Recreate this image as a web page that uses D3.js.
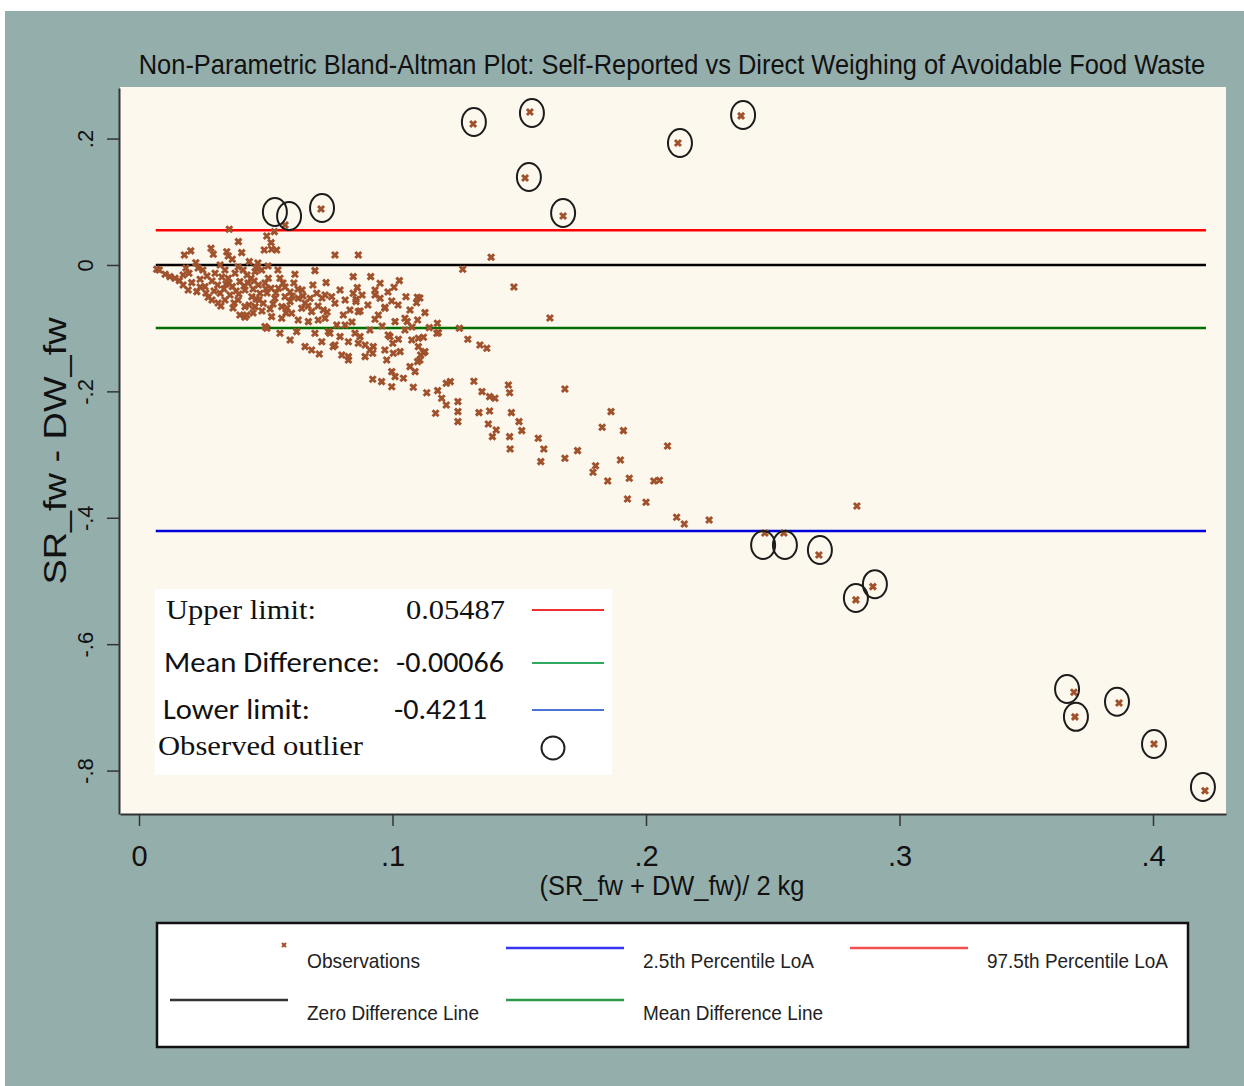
<!DOCTYPE html>
<html>
<head>
<meta charset="utf-8">
<script src="https://cdn.jsdelivr.net/npm/d3@7"></script>
<style>
body{margin:0;padding:0;background:#fff}
svg{display:block}
</style>
</head>
<body>
<div id="display"></div>
<script>
// mean of the two methods (kg) and their difference SR - DW (kg)
const avg_kg = [
  0.0356,0.0392,0.0504,0.0521,0.0494,0.0523,0.0543,0.0534,0.0576,0.0179,
  0.0204,0.0284,0.0293,0.0346,0.0352,0.0405,0.0368,0.0224,0.0435,0.0070,
  0.0080,0.0103,0.0122,0.0142,0.0159,0.0197,0.0208,0.0194,0.0228,0.0241,
  0.0260,0.0273,0.0300,0.0310,0.0320,0.0339,0.0323,0.0359,0.0368,0.0352,
  0.0379,0.0398,0.0411,0.0418,0.0442,0.0458,0.0484,0.0471,0.0445,0.0477,
  0.0490,0.0458,0.0418,0.0398,0.0418,0.0510,0.0521,0.0536,0.0556,0.0550,
  0.0563,0.0576,0.0596,0.0615,0.0628,0.0642,0.0675,0.0694,0.0701,0.0681,
  0.0602,0.0563,0.0523,0.0497,0.0628,0.0668,0.0707,
  0.0252,0.0268,0.0288,0.0327,0.0343,0.0383,0.0391,0.0430,0.0450,0.0462,
  0.0497,0.0505,0.0529,0.0576,0.0596,0.0611,0.0643,0.0655,0.0584,0.0485,
  0.0450,0.0371,0.0296,0.0241,0.0174,0.0426,0.0548,0.0509,0.0469,0.0320,
  0.0174,0.0185,0.0233,0.0264,0.0288,0.0312,0.0335,0.0355,0.0375,0.0394,
  0.0414,0.0434,0.0454,0.0473,0.0501,0.0517,0.0540,0.0568,0.0580,0.0604,
  0.0627,0.0647,0.0667,0.0686,0.0706,0.0722,0.0742,0.0462,0.0391,0.0339,
  0.0793,0.0813,0.0880,0.0903,0.0982,0.1022,0.1069,0.0911,0.0959,0.1049,
  0.1077,0.0813,0.0840,
  0.0773,0.0865,0.1389,0.1277,0.0738,0.0845,0.0914,0.0861,0.0951,0.0931,
  0.1027,0.1006,0.0734,0.0760,0.0845,0.0856,0.0931,0.0951,0.1053,0.1098,
  0.1095,0.0997,0.0970,0.0872,0.0832,0.0806,0.0773,0.0727,0.0734,0.0944,
  0.0931,0.1010,0.1049,0.1058,0.1099,0.1128,0.1145,0.1177,0.1181,0.1264,
  0.1297,0.1345,0.1372,0.0747,0.0793,0.0773,0.0826,0.0852,0.0872,0.0892,
  0.0924,0.0990,0.1023,0.1001,0.1102,0.1122,0.1102,0.1175,0.1122,0.1099,
  0.1111,
  0.0425,0.0504,0.0556,0.0596,0.0655,0.0681,0.0711,0.0622,0.0694,0.0721,
  0.0753,0.0766,0.0780,0.0865,0.0856,0.0800,0.0826,0.0826,0.0865,0.0892,
  0.0911,0.0922,0.0970,0.0983,0.0970,0.1003,0.1030,0.0977,0.1076,0.1128,
  0.1108,0.1069,0.1089,0.0997,0.1010,0.1043,0.0922,0.0957,0.0997,0.1082,
  0.1135,
  0.1178,0.1212,0.1228,0.1194,0.1212,0.1170,0.1258,0.1258,0.1258,0.1321,
  0.1353,0.1383,0.1404,0.1341,0.1383,0.1378,0.1409,0.1394,0.1457,0.1462,
  0.1469,0.1499,0.1510,0.1462,0.1464,0.1575,0.1597,0.1585,0.1680,0.1680,
  0.1730,0.1827,0.1862,0.1911,0.1801,0.1791,0.1849,0.1899,0.1934,0.1927,
  0.2000,0.2031,0.2053,0.2085,0.2121,0.2151,0.2249,0.2832,0.1479,0.1621,
  0.1108,
  0.0718,0.1318,0.1542,0.1523,0.1673,0.2126,0.2375,0.2469,0.2544,0.2682,
  0.2828,0.2895,0.3688,0.3692,0.3866,0.4004,0.4205
];
const diff_kg = [
  0.0565,0.0369,0.0459,0.0353,0.0237,0.0248,0.0237,0.0527,0.0633,0.0158,
  0.0222,0.0264,0.0169,0.0210,0.0142,0.0195,0.0090,0.0036,0.0052,-0.0068,
  -0.0079,-0.0147,-0.0185,-0.0210,-0.0248,-0.0131,-0.0280,-0.0396,-0.0422,-0.0226,
  -0.0343,-0.0511,-0.0131,-0.0316,-0.0448,-0.0554,-0.0649,-0.0475,-0.0343,-0.0210,
  -0.0131,-0.0264,-0.0079,-0.0396,-0.0210,-0.0106,-0.0079,-0.0316,-0.0502,-0.0448,
  -0.0606,-0.0660,-0.0660,-0.0791,-0.0828,-0.0210,-0.0369,-0.0527,-0.0210,-0.0369,
  -0.0660,-0.0502,-0.0581,-0.0147,-0.0527,-0.0685,-0.0527,-0.0090,-0.0448,-0.0739,
  -0.0764,-0.0843,-0.0818,-0.0976,-0.0870,-0.0897,-0.0870,
  -0.0079,-0.0174,-0.0253,-0.0190,-0.0301,-0.0411,-0.0554,-0.0285,-0.0380,-0.0538,
  -0.0285,-0.0443,-0.0617,-0.0348,-0.0427,-0.0285,-0.0396,-0.0601,-0.0680,-0.0728,
  -0.0759,-0.0680,-0.0411,-0.0348,-0.0316,-0.0158,-0.0079,-0.0016,0.0032,0.0000,
  -0.0158,-0.0047,-0.0047,-0.0443,-0.0554,-0.0601,-0.0380,-0.0285,-0.0601,-0.0459,
  -0.0332,-0.0633,-0.0253,-0.0554,-0.0380,-0.0696,-0.0443,-0.0285,-0.0759,-0.0491,
  -0.0380,-0.0491,-0.0649,-0.0316,-0.0649,-0.0522,-0.0744,-0.0047,-0.0032,-0.0079,
  -0.0396,-0.0554,-0.0475,-0.0633,-0.0427,-0.0633,-0.0712,-0.1028,-0.0965,-0.1028,
  -0.0981,-0.0949,-0.0902,
  0.0158,0.0158,0.0122,-0.0068,-0.0280,-0.0185,-0.0185,-0.0359,-0.0290,-0.0396,
  -0.0248,-0.0353,-0.0475,-0.0502,-0.0448,-0.0543,-0.0475,-0.0527,-0.0502,-0.0511,
  -0.0597,-0.0570,-0.0685,-0.0728,-0.0712,-0.0791,-0.0606,-0.0712,-0.0843,-0.0791,
  -0.0859,-0.0897,-0.0843,-0.0897,-0.0870,-0.0755,-0.0992,-0.0922,-0.1071,-0.1002,
  -0.1176,-0.1266,-0.1318,-0.1055,-0.1134,-0.1266,-0.1214,-0.1081,-0.1134,-0.1266,
  -0.1293,-0.1134,-0.1176,-0.1239,-0.1160,-0.1144,-0.1293,-0.1081,-0.1388,-0.1530,
  -0.1424,
  -0.0791,-0.1002,-0.1081,-0.1187,-0.1293,-0.1345,-0.1408,-0.1055,-0.1081,-0.1214,
  -0.1081,-0.1293,-0.0949,-0.0739,-0.0581,-0.1424,-0.1451,-0.1503,-0.1239,-0.1451,
  -0.1345,-0.1397,-0.0669,-0.1108,-0.1345,-0.1397,-0.1372,-0.1503,-0.1187,-0.1372,
  -0.1503,-0.1609,-0.1688,-0.1688,-0.1767,-0.1793,-0.1809,-0.1846,-0.1926,-0.1935,
  -0.2021,
  -0.1989,-0.1872,-0.1846,-0.2109,-0.2215,-0.2347,-0.2163,-0.2321,-0.2479,-0.1840,
  -0.2005,-0.2084,-0.2109,-0.2337,-0.2310,-0.2516,-0.2611,-0.2717,-0.1899,-0.2021,
  -0.2337,-0.2479,-0.2622,-0.2717,-0.2911,-0.2742,-0.2911,-0.3112,-0.1962,-0.3059,
  -0.2938,-0.2568,-0.2321,-0.2622,-0.3176,-0.3280,-0.3418,-0.3085,-0.3375,-0.3703,
  -0.3755,-0.3418,-0.3407,-0.2864,-0.3992,-0.4098,-0.4035,-0.3813,-0.0348,-0.0839,
  -0.0522,
  0.0886,0.2231,0.2421,0.1377,0.0775,0.1930,0.2358,-0.4240,-0.4240,-0.4590,
  -0.5300,-0.5090,-0.6760,-0.7150,-0.6930,-0.7580,-0.8320
];

// circles marking the observed outliers (as placed on the plot)
const outlier_avg = [0.0536,0.0592,0.0722,0.1321,0.1550,0.1538,0.1673,0.2134,0.2383,0.2462,
                     0.2548,0.2686,0.2828,0.2903,0.3661,0.3696,0.3858,0.4004,0.4197];
const outlier_diff = [0.0839,0.0775,0.0902,0.2263,0.2405,0.1392,0.0823,0.1930,0.2373,-0.4430,
                      -0.4430,-0.4510,-0.5270,-0.5050,-0.6710,-0.7150,-0.6910,-0.7580,-0.8260];

// horizontal reference lines
const ref_names = ["upper", "zero", "mean", "lower"];
const ref_values = [0.05487, 0, -0.0997, -0.4211];

const x_ticks = [0, 0.1, 0.2, 0.3, 0.4];
const y_ticks = [0.2, 0, -0.2, -0.4, -0.6, -0.8];

const box_labels = ["Upper limit:", "Mean Difference:", "Lower limit:", "Observed outlier"];
const box_values = ["0.05487", "-0.00066", "-0.4211", ""];

const legend_labels = ["Observations", "2.5th Percentile LoA", "97.5th Percentile LoA",
                       "Zero Difference Line", "Mean Difference Line"];

const title_text = "Non-Parametric Bland-Altman Plot: Self-Reported vs Direct Weighing of Avoidable Food Waste";
const x_title = "(SR_fw + DW_fw)/ 2 kg";
const y_title = "SR_fw - DW_fw";

// squeeze a text horizontally so it is exactly w wide (the source picture is stretched)
function squeeze(g, w){
    const t = g.select("text");
    const len = t.node().getComputedTextLength();
    const k = w / len;
    t.attr("transform", `scale(${k},1)`);
}

function generate_ba_plot(width, height){

    const svg = d3.select("#display").append("svg")
        .attr("width", width)
        .attr("height", height);

    const narrow = "'Liberation Sans Narrow','Arial Narrow','Liberation Sans',Arial,sans-serif";
    const sans = "'Liberation Sans',Arial,sans-serif";

    // page + plot backgrounds
    svg.append("rect").attr("width", width).attr("height", height).attr("fill", "#ffffff");
    svg.append("rect").attr("x", 5).attr("y", 11).attr("width", width - 5).attr("height", height - 11)
        .attr("fill", "#94aeac");

    const left = 120, right = 1226, top = 87, bottom = 814;

    svg.append("rect").attr("x", left).attr("y", top)
        .attr("width", right - left).attr("height", bottom - top)
        .attr("fill", "#fdf8ee");

    const x_scale = d3.scaleLinear().domain([-0.0075, 0.4288]).range([left, right]);
    const y_scale = d3.scaleLinear().domain([0.28, -0.8687]).range([88, bottom]);

    // stata style tick labels: .2, -.4, 0
    const stata_fmt = d => d === 0 ? "0" : String(d).replace(/^(-?)0\./, "$1.");

    // title
    const gT = svg.append("g").attr("transform", "translate(672,74)");
    gT.append("text")
        .attr("text-anchor", "middle")
        .attr("font-family", sans).attr("font-size", 27)
        .attr("fill", "#111")
        .text(title_text);
    squeeze(gT, 1067);

    // axes
    const gX = svg.append("g").attr("transform", `translate(0,${bottom})`)
        .call(d3.axisBottom(x_scale).tickValues(x_ticks).tickFormat(stata_fmt).tickSize(12).tickSizeOuter(0));
    gX.select(".domain").attr("stroke", "#333").attr("stroke-width", 2);
    gX.selectAll(".tick line").attr("stroke", "#333").attr("stroke-width", 1.5);
    gX.selectAll(".tick text")
        .attr("y", 52).attr("dy", 0)
        .attr("font-family", narrow).attr("font-size", 29).attr("fill", "#111");

    const gY = svg.append("g").attr("transform", `translate(${left - 1},0)`)
        .call(d3.axisLeft(y_scale).tickValues(y_ticks).tickFormat(stata_fmt).tickSize(12).tickSizeOuter(0));
    gY.select(".domain").attr("stroke", "#333").attr("stroke-width", 2);
    gY.selectAll(".tick line").attr("stroke", "#333").attr("stroke-width", 1.5);
    gY.selectAll(".tick text")
        .attr("x", 0).attr("dy", 0)
        .attr("transform", "translate(-26,0) rotate(-90)")
        .attr("text-anchor", "middle")
        .attr("font-family", sans).attr("font-size", 22).attr("fill", "#111");

    const gXT = svg.append("g").attr("transform", "translate(672,895)");
    gXT.append("text")
        .attr("text-anchor", "middle")
        .attr("font-family", sans).attr("font-size", 27)
        .attr("fill", "#111")
        .text(x_title);
    squeeze(gXT, 265);

    svg.append("text")
        .attr("transform", "translate(66,451) rotate(-90)")
        .attr("text-anchor", "middle")
        .attr("font-family", sans).attr("font-size", 31)
        .attr("textLength", 267).attr("lengthAdjust", "spacingAndGlyphs")
        .attr("fill", "#111")
        .text(y_title);

    // reference lines across the range of the means
    const ref_colours = {upper: "#ff0000", zero: "#000000", mean: "#006f00", lower: "#0000dd"};
    const x_ext = d3.extent(avg_kg);
    svg.append("g").selectAll("line")
        .data(ref_values)
        .join("line")
        .attr("x1", x_scale(x_ext[0]) - 1).attr("x2", x_scale(x_ext[1]) + 1)
        .attr("y1", d => y_scale(d)).attr("y2", d => y_scale(d))
        .attr("stroke", (d, i) => ref_colours[ref_names[i]])
        .attr("stroke-width", 2.5);

    // observations as small x markers
    const cross = "M-3,-3L3,3M3,-3L-3,3";
    svg.append("g").selectAll("path")
        .data(avg_kg)
        .join("path")
        .attr("transform", (d, i) => `translate(${x_scale(d)},${y_scale(diff_kg[i])})`)
        .attr("d", cross)
        .attr("stroke", "#a0522d")
        .attr("stroke-width", 3)
        .attr("fill", "none");

    // outlier circles
    svg.append("g").selectAll("ellipse")
        .data(outlier_avg)
        .join("ellipse")
        .attr("cx", d => x_scale(d))
        .attr("cy", (d, i) => y_scale(outlier_diff[i]))
        .attr("rx", 12).attr("ry", 14)
        .attr("fill", "none")
        .attr("stroke", "#1c1c1c")
        .attr("stroke-width", 2);

    // ---- the limits box inside the plot ----
    const box = svg.append("g");
    box.append("rect").attr("x", 155).attr("y", 589).attr("width", 457).attr("height", 186).attr("fill", "#ffffff");

    const serif = "'Liberation Serif','Times New Roman',serif";
    const calib = "Carlito,Lato,'Open Sans',sans-serif";
    const box_rows = [
        {lx: 166, vx: 406, y: 619, font: serif, lw: 150, vw: 99, colour: "#ee3030"},
        {lx: 164, vx: 396, y: 672, font: calib, lw: 216, vw: 108, colour: "#2faa60"},
        {lx: 163, vx: 394, y: 719, font: calib, lw: 147, vw: 93, colour: "#4a74d6"},
        {lx: 158, vx: 0, y: 755, font: serif, lw: 205, vw: 0, colour: null}
    ];
    box_rows.forEach((r, i) => {
        box.append("text").attr("x", r.lx).attr("y", r.y)
            .attr("font-family", r.font).attr("font-size", 28)
            .attr("textLength", r.lw).attr("lengthAdjust", "spacingAndGlyphs")
            .attr("fill", "#111").text(box_labels[i]);
        if(box_values[i] !== ""){
            box.append("text").attr("x", r.vx).attr("y", r.y)
                .attr("font-family", r.font).attr("font-size", 28)
                .attr("textLength", r.vw).attr("lengthAdjust", "spacingAndGlyphs")
                .attr("fill", "#111").text(box_values[i]);
        }
        if(r.colour){
            box.append("line").attr("x1", 532).attr("x2", 604)
                .attr("y1", r.y - 9).attr("y2", r.y - 9)
                .attr("stroke", r.colour).attr("stroke-width", 2);
        }
    });
    box.append("circle").attr("cx", 553).attr("cy", 748).attr("r", 11.5)
        .attr("fill", "none").attr("stroke", "#222").attr("stroke-width", 2);

    // ---- bottom legend ----
    const leg = svg.append("g");
    leg.append("rect").attr("x", 157).attr("y", 923).attr("width", 1031).attr("height", 124)
        .attr("fill", "#ffffff").attr("stroke", "#111").attr("stroke-width", 2.5);

    const leg_items = [
        {kind: "marker", sx: 284, tx: 307, y: 968, w: 113},
        {kind: "line", sx: 506, tx: 643, y: 968, w: 171, colour: "#3535f2"},
        {kind: "line", sx: 850, tx: 987, y: 968, w: 181, colour: "#f25050"},
        {kind: "line", sx: 170, tx: 307, y: 1020, w: 172, colour: "#333333"},
        {kind: "line", sx: 506, tx: 643, y: 1020, w: 180, colour: "#2f9a48"}
    ];
    leg_items.forEach((it, i) => {
        if(it.kind === "marker"){
            leg.append("path").attr("transform", `translate(${it.sx},${it.y - 23})`)
                .attr("d", "M-2,-2L2,2M2,-2L-2,2")
                .attr("stroke", "#a0522d").attr("stroke-width", 2);
        }else{
            leg.append("line").attr("x1", it.sx).attr("x2", it.sx + 118)
                .attr("y1", it.y - 20).attr("y2", it.y - 20)
                .attr("stroke", it.colour).attr("stroke-width", 2.5);
        }
        leg.append("text").attr("x", it.tx).attr("y", it.y)
            .attr("font-family", narrow).attr("font-size", 21)
            .attr("textLength", it.w).attr("lengthAdjust", "spacingAndGlyphs")
            .attr("fill", "#222").text(legend_labels[i]);
    });

    return svg.node();
}

const outcome = generate_ba_plot(1244, 1086);
</script>
</body>
</html>
